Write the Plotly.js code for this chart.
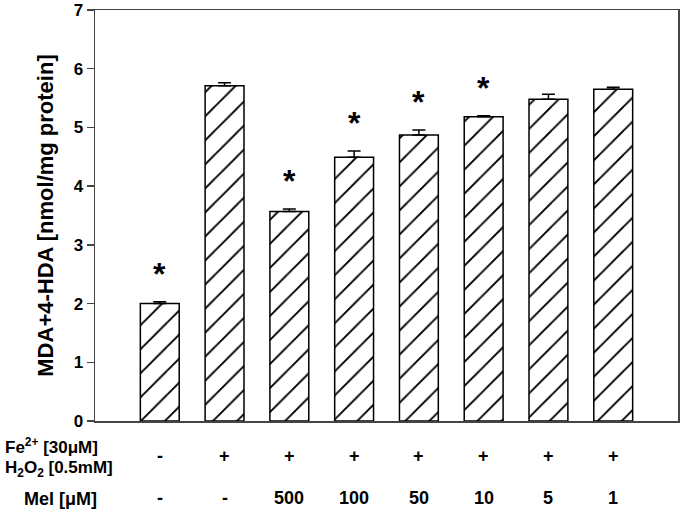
<!DOCTYPE html>
<html>
<head>
<meta charset="utf-8">
<script src="https://cdn.plot.ly/plotly-3.0.1.min.js"></script>
<style>html,body{margin:0;padding:0;background:#fff;}#chart{width:685px;height:520px;}</style>
</head>
<body>
<div id="chart"></div>
<script>
// ---- data ----
var categories = ['Control', 'Fe/H2O2', 'Mel 500', 'Mel 100', 'Mel 50', 'Mel 10', 'Mel 5', 'Mel 1'];
var values = [2.00, 5.71, 3.57, 4.49, 4.87, 5.18, 5.48, 5.65];
var errors = [0.03, 0.05, 0.04, 0.11, 0.085, 0.02, 0.085, 0.035];
var significant = [true, false, true, true, true, true, false, false];
var feH2O2Labels = ['-', '+', '+', '+', '+', '+', '+', '+'];
var melLabels = ['-', '-', '500', '100', '50', '10', '5', '1'];
var yTicks = [0, 1, 2, 3, 4, 5, 6, 7];

var FONT = 'Liberation Sans, Arial, Helvetica, sans-serif';
var L = 95, R = 7, T = 10, B = 99, W = 685, H = 520;
function py(pix) { return (H - B - pix) / (H - T - B); }
function px(pix) { return (pix - L) / (W - L - R); }

var trace = {
  type: 'bar',
  x: categories,
  y: values,
  width: 0.6,
  marker: {
    color: '#ffffff',
    line: {color: '#000000', width: 1.5},
    pattern: {shape: '/', fgcolor: '#000000', bgcolor: '#ffffff', fgopacity: 1,
              size: 17, solidity: 0.11, fillmode: 'replace'}
  },
  error_y: {
    type: 'data', symmetric: false, array: errors,
    arrayminus: errors.map(function(){return 0;}),
    color: '#000000', thickness: 1.5, width: 6.5
  },
  hoverinfo: 'none'
};

var annotations = [];
for (var i = 0; i < categories.length; i++) {
  if (significant[i]) {
    annotations.push({
      x: categories[i], y: values[i] + errors[i], xref: 'x', yref: 'y',
      text: '<b>*</b>', showarrow: false, yanchor: 'bottom', yshift: 8,
      font: {family: FONT, size: 32, color: '#000'}
    });
  }
  annotations.push({
    x: categories[i], y: py(456), xref: 'x', yref: 'paper',
    text: '<b>' + feH2O2Labels[i] + '</b>', showarrow: false, yanchor: 'middle',
    font: {family: FONT, size: 18, color: '#000'}
  });
  annotations.push({
    x: categories[i], y: py(498), xref: 'x', yref: 'paper',
    text: '<b>' + melLabels[i] + '</b>', showarrow: false, yanchor: 'middle',
    font: {family: FONT, size: 18, color: '#000'}
  });
}
annotations.push({
  x: px(3), y: py(446), xref: 'paper', yref: 'paper', xanchor: 'left', yanchor: 'middle',
  text: '<b>Fe<sup>2+</sup> [30μM]</b>', showarrow: false,
  font: {family: FONT, size: 17, color: '#000'}
});
annotations.push({
  x: px(3), y: py(469), xref: 'paper', yref: 'paper', xanchor: 'left', yanchor: 'middle',
  text: '<b>H<sub>2</sub>O<sub>2</sub> [0.5mM]</b>', showarrow: false,
  font: {family: FONT, size: 17, color: '#000'}
});
annotations.push({
  x: px(22), y: py(499), xref: 'paper', yref: 'paper', xanchor: 'left', yanchor: 'middle',
  text: '<b>Mel [μM]</b>', showarrow: false,
  font: {family: FONT, size: 18, color: '#000'}
});

var layout = {
  width: W, height: H,
  margin: {l: L, r: R, t: T, b: B},
  paper_bgcolor: '#ffffff', plot_bgcolor: '#ffffff',
  showlegend: false,
  bargap: 0.4,
  xaxis: {
    type: 'category', range: [-1, 8], showticklabels: false, ticks: '',
    showgrid: false, zeroline: false, showline: true, mirror: true,
    linecolor: '#444444', linewidth: 1.5, fixedrange: true
  },
  yaxis: {
    range: [0, 7], tickvals: yTicks, ticks: 'outside', ticklen: 7, tickwidth: 1.5,
    tickcolor: '#444444', showgrid: false, zeroline: false, showline: true, mirror: true,
    linecolor: '#444444', linewidth: 1.5,
    tickfont: {family: FONT, size: 17, color: '#000', weight: 'bold'},
    title: {text: '<b>MDA+4-HDA [nmol/mg protein]</b>', standoff: 14,
            font: {family: FONT, size: 22, color: '#000'}},
    fixedrange: true
  },
  annotations: annotations
};

Plotly.newPlot('chart', [trace], layout, {displayModeBar: false, staticPlot: true});
</script>
</body>
</html>
